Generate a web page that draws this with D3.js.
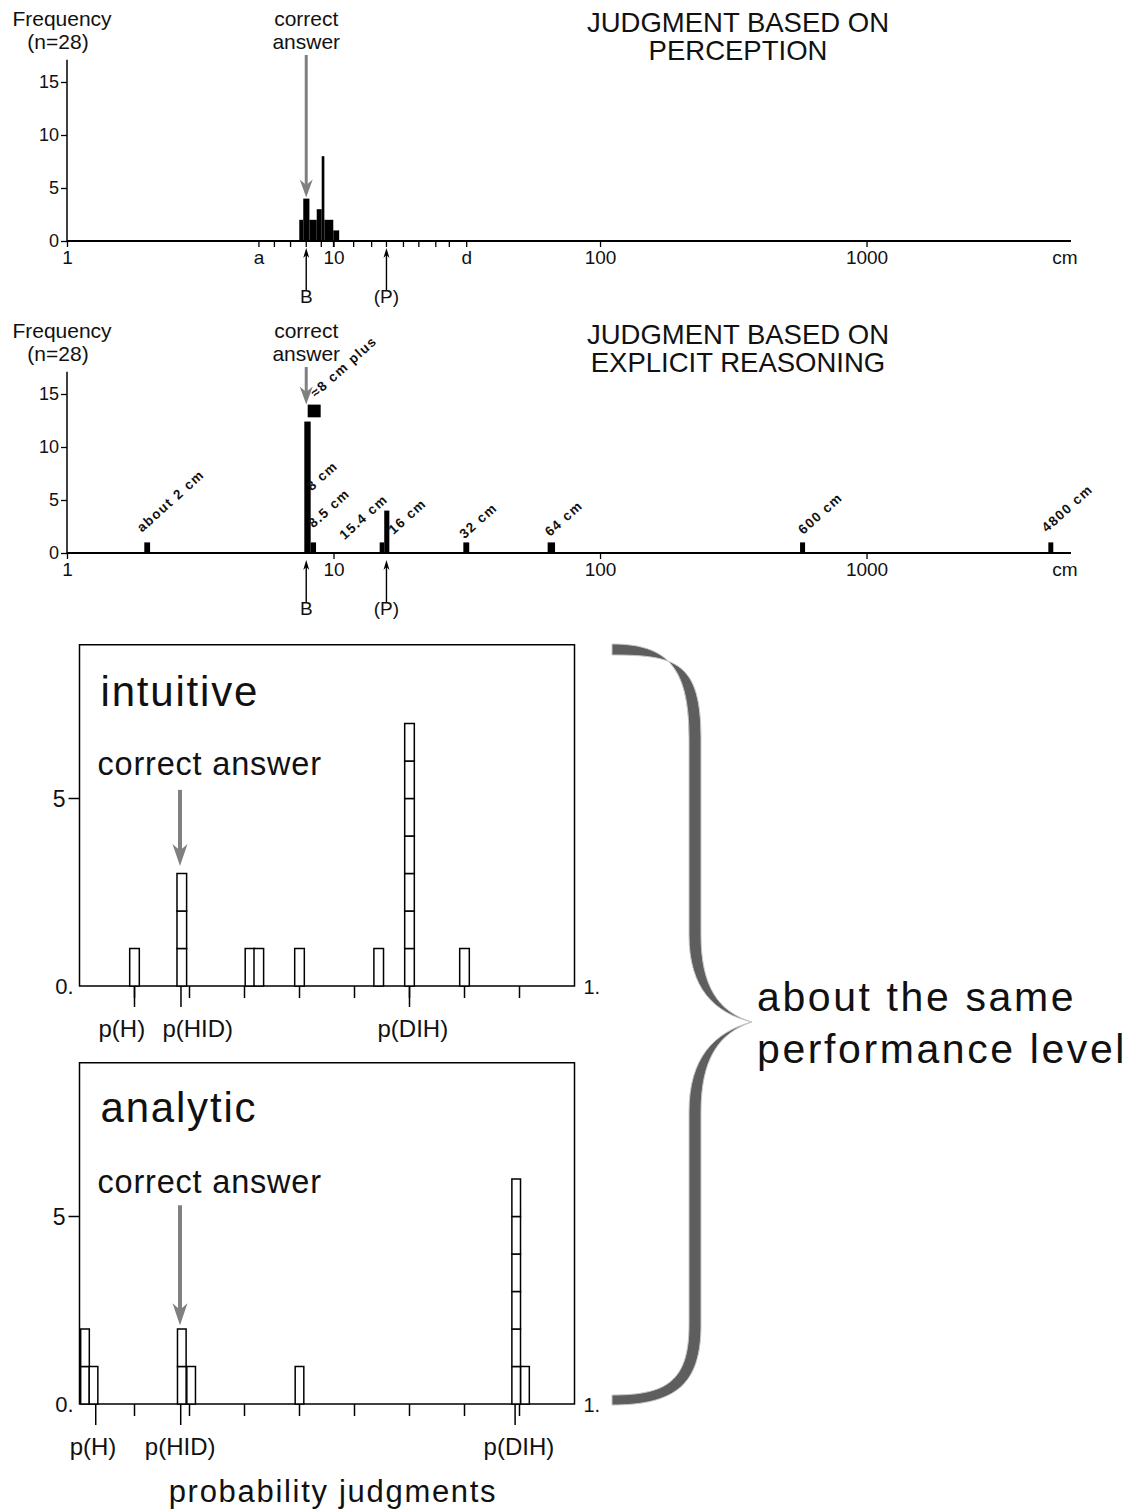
<!DOCTYPE html>
<html>
<head>
<meta charset="utf-8">
<script src="https://cdn.jsdelivr.net/npm/d3@7"></script>
<style>
body { margin: 0; background: #fff; }
svg { display: block; }
text { font-family: "Liberation Sans", Arial, sans-serif; fill: #111; }
</style>
</head>
<body>
<svg id="fig"></svg>
<script>
const CONF = {
    width: 1136,
    height: 1512,
    logLeft: 67,
    logRight: 1071,
    unitTop: 10.6,
    unitBottom: 37.5,
    arrowGray: "#808080",
}

// ---- top two panels (log cm axis) ----
const cmDomain = [1, 5850];
const freqTicks = [0, 5, 10, 15];
const majorCm = [1, 10, 100, 1000];
const majorCmLabels = ["1", "10", "100", "1000"];
const perceptionMinorCm = [5.25, 6, 6.9, 7.9, 9, 10, 11.9, 13.9, 15.8, 18.3, 20.9, 24.2, 27.2, 31.6];
const perceptionLetters = [{ cm: 5.25, text: "a" }, { cm: 31.6, text: "d" }];
const markerB = 7.9;
const markerP = 15.8;
const correctCm = 7.9;

// [from cm, to cm, frequency]
const perceptionBins = [
    [7.44, 7.70, 2], [7.70, 8.12, 4], [8.12, 8.65, 2], [8.65, 9.03, 3],
    [9.03, 9.24, 8], [9.24, 9.98, 2], [9.98, 10.5, 1],
];
const reasoningBins = [
    [1.95, 2.05, 1], [7.77, 8.21, 12.4], [8.21, 8.6, 1], [14.9, 15.5, 1],
    [15.5, 16.2, 4], [30.7, 32.3, 1], [63.6, 67.8, 1], [563, 588, 1], [4810, 5020, 1],
];
// floating box: [from cm, to cm, low freq, high freq]
const reasoningFloat = [[8.0, 8.95, 12.8, 14.0]];
// notes written next to the answers: anchor cm, anchor freq
const reasoningNotes = [
    { cm: 1.91, f: 1.9, text: "about 2 cm" },
    { cm: 8.58, f: 14.6, text: "≈8 cm plus" },
    { cm: 8.28, f: 5.8, text: "8 cm" },
    { cm: 8.4, f: 2.3, text: "8.5 cm" },
    { cm: 11.0, f: 1.2, text: "15.4 cm" },
    { cm: 16.8, f: 1.7, text: "16 cm" },
    { cm: 31.0, f: 1.3, text: "32 cm" },
    { cm: 64.9, f: 1.5, text: "64 cm" },
    { cm: 579, f: 1.7, text: "600 cm" },
    { cm: 4745, f: 1.9, text: "4800 cm" },
];

// ---- bottom two panels (probability judgments) ----
const probTicks = [0.1, 0.2, 0.3, 0.4, 0.5, 0.6, 0.7, 0.8];
const intuitiveBars = [
    { v: 0.1, n: 1 }, { v: 0.186, n: 3 }, { v: 0.31, n: 1 }, { v: 0.326, n: 1 },
    { v: 0.4, n: 1 }, { v: 0.544, n: 1 }, { v: 0.6, n: 7 }, { v: 0.7, n: 1 },
];
const analyticBars = [
    { v: 0.01, n: 2 }, { v: 0.0255, n: 1 }, { v: 0.186, n: 2 }, { v: 0.203, n: 1 },
    { v: 0.4, n: 1 }, { v: 0.794, n: 6 }, { v: 0.81, n: 1 },
];
const intuitiveMarks = [
    { v: 0.1, label: "p(H)", lv: 0.077 },
    { v: 0.1845, label: "p(HID)", lv: 0.215 },
    { v: 0.6, label: "p(DIH)", lv: 0.606 },
];
const analyticMarks = [
    { v: 0.0295, label: "p(H)", lv: 0.0245 },
    { v: 0.184, label: "p(HID)", lv: 0.183 },
    { v: 0.792, label: "p(DIH)", lv: 0.799 },
];
const correctProb = 0.1827;

const svg = d3.select("svg#fig").attr("width", CONF.width).attr("height", CONF.height);

function arrow(g, x, y0, y1, color, shaft, headW, headL) {
    // vertical arrow from y0 to tip y1
    let dir = y1 > y0 ? 1 : -1;
    g.append("line").attr("x1", x).attr("x2", x).attr("y1", y0).attr("y2", y1 - dir * headL * 0.7)
        .attr("stroke", color).attr("stroke-width", shaft);
    g.append("path")
        .attr("d", `M${x - headW / 2},${y1 - dir * headL} L${x},${y1 - dir * headL * 0.7} L${x + headW / 2},${y1 - dir * headL} L${x},${y1} Z`)
        .attr("fill", color);
}

const x = d3.scaleLog().domain(cmDomain).range([CONF.logLeft, CONF.logRight]);

function logPanel(base, opts) {
    let g = svg.append("g");
    let y = d3.scaleLinear().domain([0, 15]).range([base, base - 15 * CONF.unitTop]);

    // bars
    g.selectAll(null).data(opts.bins).enter().append("rect")
        .attr("x", d => x(d[0])).attr("width", d => x(d[1]) - x(d[0]))
        .attr("y", d => y(d[2])).attr("height", d => y(0) - y(d[2]))
        .attr("fill", "#000");
    if (opts.floats) {
        g.selectAll(null).data(opts.floats).enter().append("rect")
            .attr("x", d => x(d[0])).attr("width", d => x(d[1]) - x(d[0]))
            .attr("y", d => y(d[3])).attr("height", d => y(d[2]) - y(d[3]))
            .attr("fill", "#000");
    }

    // y axis
    g.append("line").attr("x1", x(1)).attr("x2", x(1)).attr("y1", y(0)).attr("y2", y(17.1))
        .attr("stroke", "#000").attr("stroke-width", 1.5);
    let ya = g.append("g").attr("transform", `translate(${x(1)},0)`)
        .call(d3.axisLeft(y).tickValues(freqTicks).tickSize(6).tickSizeOuter(0).tickPadding(2));
    ya.select(".domain").remove();
    ya.selectAll("line").attr("stroke-width", 1.3);
    ya.selectAll("text").attr("font-size", 18).attr("font-family", "Liberation Sans, Arial, sans-serif");

    // x axis
    g.append("line").attr("x1", x(1)).attr("x2", CONF.logRight).attr("y1", y(0)).attr("y2", y(0))
        .attr("stroke", "#000").attr("stroke-width", 2);
    let xa = g.append("g").attr("transform", `translate(0,${y(0)})`)
        .call(d3.axisBottom(x).tickValues(majorCm).tickFormat((d, i) => majorCmLabels[i]).tickSize(6).tickSizeOuter(0).tickPadding(4));
    xa.select(".domain").remove();
    xa.selectAll("line").attr("stroke-width", 1.3);
    xa.selectAll("text").attr("font-size", 19).attr("font-family", "Liberation Sans, Arial, sans-serif");
    g.append("text").attr("x", CONF.logRight - 6).attr("y", y(0) + 23).attr("text-anchor", "middle")
        .attr("font-size", 19).text("cm");

    if (opts.minor) {
        g.selectAll(null).data(opts.minor).enter().append("line")
            .attr("x1", d => x(d)).attr("x2", d => x(d))
            .attr("y1", y(0)).attr("y2", y(0) + 6)
            .attr("stroke", "#000").attr("stroke-width", 1.3);
        g.selectAll(null).data(opts.letters).enter().append("text")
            .attr("x", d => x(d.cm)).attr("y", y(0) + 23).attr("text-anchor", "middle")
            .attr("font-size", 19).text(d => d.text);
    }

    // B and (P) markers
    [[markerB, "B"], [markerP, "(P)"]].forEach(([cm, lab]) => {
        arrow(g, x(cm), y(0) + 49, y(0) + 7, "#000", 1.4, 6, 10);
        g.append("text").attr("x", x(cm)).attr("y", y(0) + 62).attr("text-anchor", "middle")
            .attr("font-size", 19).text(lab);
    });

    // correct answer arrow
    g.append("text").attr("x", x(correctCm)).attr("y", base - 215).attr("text-anchor", "middle")
        .attr("font-size", 21).text("correct");
    g.append("text").attr("x", x(correctCm)).attr("y", base - 192).attr("text-anchor", "middle")
        .attr("font-size", 21).text("answer");
    arrow(g, x(correctCm), base - 186, y(opts.arrowTip), CONF.arrowGray, 3, 13, 18);

    // y label
    g.append("text").attr("x", 62).attr("y", base - 215).attr("text-anchor", "middle")
        .attr("font-size", 21).text("Frequency");
    g.append("text").attr("x", 58).attr("y", base - 192).attr("text-anchor", "middle")
        .attr("font-size", 21).text("(n=28)");

    // title
    opts.title.forEach((t, i) => {
        g.append("text").attr("x", 738).attr("y", base - 209 + i * 28).attr("text-anchor", "middle")
            .attr("font-size", 27.5).text(t);
    });

    if (opts.notes) {
        g.selectAll(null).data(opts.notes).enter().append("text")
            .attr("transform", d => `translate(${x(d.cm)},${y(d.f)}) rotate(-42)`)
            .attr("font-size", 13.5).attr("font-weight", "bold").attr("letter-spacing", 1.4)
            .text(d => d.text);
    }
}

logPanel(241, {
    bins: perceptionBins,
    minor: perceptionMinorCm,
    letters: perceptionLetters,
    arrowTip: 4.1,
    title: ["JUDGMENT BASED ON", "PERCEPTION"],
});
logPanel(553, {
    bins: reasoningBins,
    floats: reasoningFloat,
    notes: reasoningNotes,
    arrowTip: 14.0,
    title: ["JUDGMENT BASED ON", "EXPLICIT REASONING"],
});

// ---- probability panels ----
const px = d3.scaleLinear().domain([0, 0.9]).range([79.5, 574.5]);

function probPanel(base, opts) {
    let g = svg.append("g");
    let y = d3.scaleLinear().domain([0, 9.1]).range([base, base - 9.1 * CONF.unitBottom]);

    g.append("rect").attr("x", px(0)).attr("y", y(9.1)).attr("width", px(0.9) - px(0)).attr("height", y(0) - y(9.1))
        .attr("fill", "none").attr("stroke", "#000").attr("stroke-width", 1.5);

    // stacked unit boxes
    let cells = [];
    opts.bars.forEach(b => { for (let k = 0; k < b.n; k++) cells.push({ v: b.v, k: k }); });
    g.selectAll(null).data(cells).enter().append("rect")
        .attr("x", d => px(d.v - opts.barW / 2)).attr("width", px(opts.barW) - px(0))
        .attr("y", d => y(d.k + 1)).attr("height", y(0) - y(1))
        .attr("fill", "#fff").attr("stroke", "#000").attr("stroke-width", 1.5);

    // ticks
    g.selectAll(null).data(probTicks).enter().append("line")
        .attr("x1", d => px(d)).attr("x2", d => px(d)).attr("y1", y(0)).attr("y2", y(0) + 12)
        .attr("stroke", "#000").attr("stroke-width", 1.5);
    g.selectAll(null).data(opts.marks).enter().append("line")
        .attr("x1", d => px(d.v)).attr("x2", d => px(d.v)).attr("y1", y(0)).attr("y2", y(0) + 21)
        .attr("stroke", "#000").attr("stroke-width", 1.5);
    g.selectAll(null).data(opts.marks).enter().append("text")
        .attr("x", d => px(d.lv)).attr("y", y(0) + 51).attr("text-anchor", "middle")
        .attr("font-size", 24).text(d => d.label);

    // y ticks
    g.append("line").attr("x1", px(0) - 11).attr("x2", px(0)).attr("y1", y(5)).attr("y2", y(5))
        .attr("stroke", "#000").attr("stroke-width", 1.5);
    g.append("text").attr("x", px(0) - 14).attr("y", y(5) + 8).attr("text-anchor", "end")
        .attr("font-size", 23).text("5");
    g.append("text").attr("x", px(0) - 6).attr("y", y(0) + 8).attr("text-anchor", "end")
        .attr("font-size", 22).text("0.");
    g.append("text").attr("x", px(0.9) + 9).attr("y", y(0) + 8)
        .attr("font-size", 20).text("1.");

    g.append("text").attr("x", px(0) + 21).attr("y", base - opts.titleUp)
        .attr("font-size", 42).attr("letter-spacing", 1.8).text(opts.title);
    g.append("text").attr("x", px(0) + 18).attr("y", base - 211)
        .attr("font-size", 32.5).attr("letter-spacing", 0.8).text("correct answer");
    arrow(g, px(correctProb), y(opts.arrowFrom), y(opts.arrowTo), CONF.arrowGray, 4, 15, 22);
}

probPanel(986, {
    bars: intuitiveBars, marks: intuitiveMarks, barW: 0.0175,
    title: "intuitive", titleUp: 280, arrowFrom: 5.23, arrowTo: 3.2,
});
probPanel(1404, {
    bars: analyticBars, marks: analyticMarks, barW: 0.0157,
    title: "analytic", titleUp: 282, arrowFrom: 5.3, arrowTo: 2.1,
});

svg.append("text").attr("x", 333).attr("y", 1502).attr("text-anchor", "middle")
    .attr("font-size", 31).attr("letter-spacing", 1.7).text("probability judgments");

// brace
svg.append("path")
    .attr("d", "M612,644 C668,644 689,668 689,738 L689,935 C689,988 714,1013 752,1022 " +
        "C714,1032 689,1058 689,1112 L689,1325 C689,1382 666,1395 612,1395 L612,1405 " +
        "C676,1405 701,1384 701,1325 L701,1112 C701,1060 718,1033 752,1022 " +
        "C718,1012 701,986 701,935 L701,738 C701,662 676,655 612,655 Z")
    .attr("fill", "#5e5e5e").attr("stroke", "#c8c8c8").attr("stroke-width", 1);

svg.append("text").attr("x", 757).attr("y", 1011).attr("font-size", 41).attr("letter-spacing", 2.6)
    .text("about the same");
svg.append("text").attr("x", 757).attr("y", 1063).attr("font-size", 41).attr("letter-spacing", 2.6)
    .text("performance level");
</script>
</body>
</html>
